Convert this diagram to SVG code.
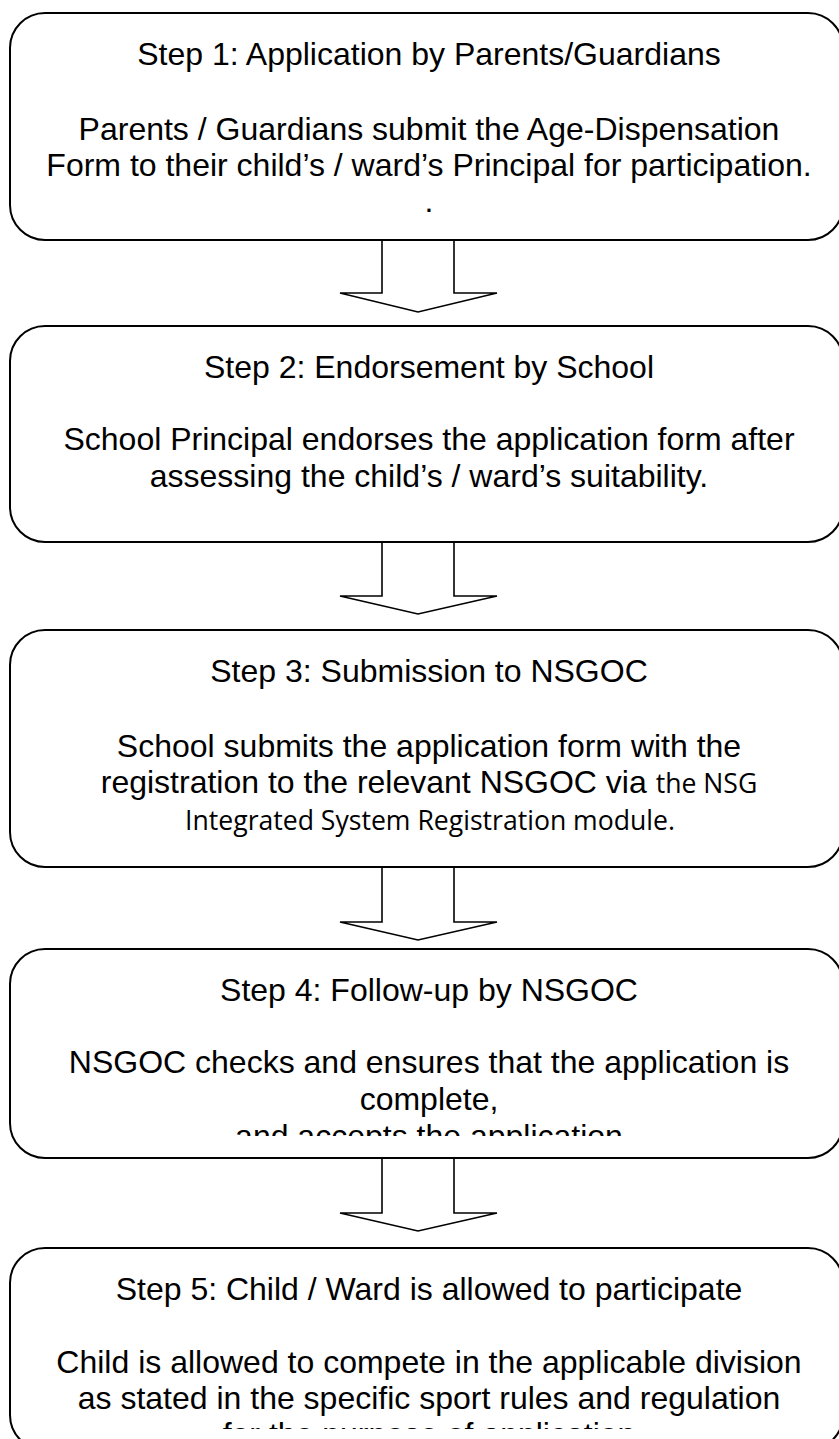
<svg xmlns="http://www.w3.org/2000/svg" width="839" height="1439" viewBox="0 0 839 1439">
<style>
.box{fill:#fff;stroke:#000;stroke-width:2}
.arr{fill:#fff;stroke:#000;stroke-width:1.6;stroke-linejoin:miter}
.t{font-family:"Liberation Sans",Arial,sans-serif;font-size:32px;fill:#000;text-anchor:middle}
.s{font-family:"Open Sans","Noto Sans",sans-serif;font-size:26.6px}
</style>
<defs>
<clipPath id="c4"><rect x="0" y="949" width="839" height="187"/></clipPath>
<clipPath id="c5"><rect x="0" y="1248" width="839" height="181"/></clipPath>
</defs>
<rect width="839" height="1439" fill="#fff"/>
<g id="connectors">
<path class="arr" d="M382,240 V293 H340 L418,312 L497,293 H454 V240"/>
<path class="arr" d="M382,542 V596 H340 L418,614 L497,596 H454 V542"/>
<path class="arr" d="M382,867 V922 H340 L418,940 L497,922 H454 V867"/>
<path class="arr" d="M382,1158 V1213 H340 L418,1231 L497,1213 H454 V1158"/>
</g>
<g id="step1">
<rect class="box" x="10" y="13" width="833" height="227" rx="35" ry="35"/>
<text class="t" x="429" y="65">Step 1: Application by Parents/Guardians</text>
<text class="t" x="429" y="140">Parents / Guardians submit the Age-Dispensation</text>
<text class="t" x="429" y="176">Form to their child’s / ward’s Principal for participation.</text>
<text class="t" x="429" y="212">.</text>
</g>
<g id="step2">
<rect class="box" x="10" y="326" width="833" height="216" rx="35" ry="35"/>
<text class="t" x="429" y="378">Step 2: Endorsement by School</text>
<text class="t" x="429" y="450">School Principal endorses the application form after</text>
<text class="t" x="429" y="487">assessing the child’s / ward’s suitability.</text>
</g>
<g id="step3">
<rect class="box" x="10" y="630" width="833" height="237" rx="35" ry="35"/>
<text class="t" x="429" y="682">Step 3: Submission to NSGOC</text>
<text class="t" x="429" y="757">School submits the application form with the</text>
<text class="t" x="429" y="793">registration to the relevant NSGOC via <tspan class="s">the NSG</tspan></text>
<text class="t s" x="430" y="830">Integrated System Registration module.</text>
</g>
<g id="step4">
<rect class="box" x="10" y="949" width="833" height="209" rx="35" ry="35"/>
<text class="t" x="429" y="1001">Step 4: Follow-up by NSGOC</text>
<g clip-path="url(#c4)">
<text class="t" x="429" y="1073">NSGOC checks and ensures that the application is</text>
<text class="t" x="429" y="1110">complete,</text>
<text class="t" x="429" y="1147">and accepts the application</text>
</g>
</g>
<g id="step5">
<rect class="box" x="10" y="1248" width="833" height="202" rx="35" ry="35"/>
<text class="t" x="429" y="1300">Step 5: Child / Ward is allowed to participate</text>
<g clip-path="url(#c5)">
<text class="t" x="429" y="1373">Child is allowed to compete in the applicable division</text>
<text class="t" x="429" y="1409">as stated in the specific sport rules and regulation</text>
<text class="t" x="429" y="1445">for the purpose of application</text>
</g>
</g>
</svg>
